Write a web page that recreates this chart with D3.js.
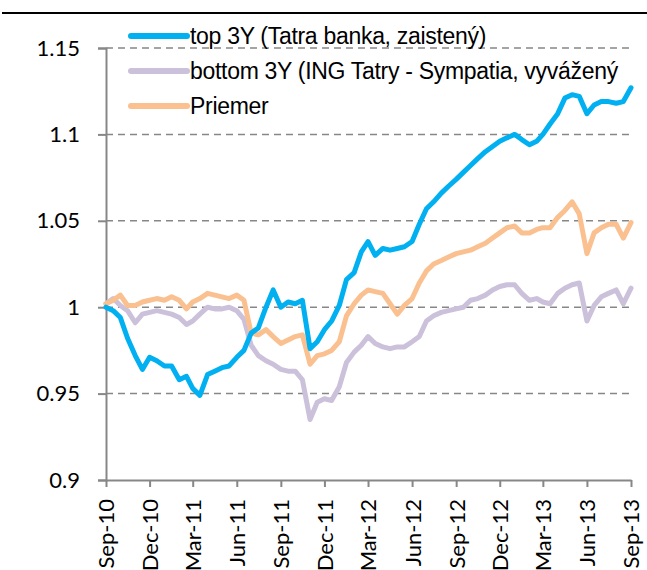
<!DOCTYPE html>
<html>
<head>
<meta charset="utf-8">
<script src="https://cdn.jsdelivr.net/npm/d3@7"></script>
<style>
  body { margin: 0; background: #fff; }
  svg { display: block; }
</style>
</head>
<body>
<div id="chart"></div>
<script>
// series, one value every half month from Sep-10 to Sep-13
var topValues = [
  1.000, 0.998, 0.994, 0.982, 0.972, 0.964, 0.971, 0.969, 0.966, 0.966,
  0.958, 0.960, 0.953, 0.949, 0.961, 0.963, 0.965, 0.966, 0.971, 0.975,
  0.985, 0.988, 1.000, 1.010, 1.000, 1.003, 1.002, 1.004, 0.976, 0.980,
  0.987, 0.992, 1.001, 1.016, 1.020, 1.032, 1.038, 1.030, 1.034, 1.033,
  1.034, 1.035, 1.038, 1.048, 1.057, 1.061, 1.066, 1.070, 1.074, 1.078,
  1.082, 1.086, 1.090, 1.093, 1.096, 1.098, 1.100, 1.097, 1.094, 1.096,
  1.100, 1.106, 1.112, 1.121, 1.123, 1.122, 1.112, 1.117, 1.119, 1.119,
  1.118, 1.119, 1.127
];
var bottomValues = [
  1.002, 1.005, 1.001, 0.998, 0.991, 0.996, 0.997, 0.998, 0.997, 0.996,
  0.994, 0.990, 0.992, 0.996, 1.000, 0.999, 0.999, 1.000, 0.998, 0.993,
  0.978, 0.972, 0.969, 0.967, 0.964, 0.963, 0.963, 0.958, 0.935, 0.945,
  0.947, 0.946, 0.954, 0.968, 0.974, 0.978, 0.983, 0.979, 0.977, 0.976,
  0.977, 0.977, 0.980, 0.983, 0.992, 0.995, 0.997, 0.998, 0.999, 1.000,
  1.004, 1.005, 1.007, 1.010, 1.012, 1.013, 1.013, 1.008, 1.004, 1.005,
  1.003, 1.002, 1.008, 1.011, 1.013, 1.014, 0.992, 1.001, 1.006, 1.008,
  1.010, 1.002, 1.011
];
var avgValues = [
  1.002, 1.004, 1.007, 1.001, 1.001, 1.003, 1.004, 1.005, 1.004, 1.006,
  1.004, 0.999, 1.003, 1.005, 1.008, 1.007, 1.006, 1.005, 1.007, 1.004,
  0.985, 0.984, 0.987, 0.983, 0.979, 0.981, 0.983, 0.984, 0.967, 0.972,
  0.973, 0.975, 0.980, 0.995, 1.002, 1.007, 1.010, 1.009, 1.008, 1.002,
  0.996, 1.001, 1.005, 1.014, 1.021, 1.025, 1.027, 1.029, 1.031, 1.032,
  1.033, 1.035, 1.037, 1.040, 1.043, 1.046, 1.047, 1.043, 1.043, 1.045,
  1.046, 1.046, 1.052, 1.056, 1.061, 1.054, 1.031, 1.043, 1.046, 1.048,
  1.048, 1.040, 1.049
];
var seriesNames = [
  "top 3Y (Tatra banka, zaistený)",
  "bottom 3Y (ING Tatry - Sympatia, vyvážený",
  "Priemer"
];
var yTicks = [0.9, 0.95, 1, 1.05, 1.1, 1.15];
var xTickLabels = ["Sep-10", "Dec-10", "Mar-11", "Jun-11", "Sep-11", "Dec-11", "Mar-12",
                   "Jun-12", "Sep-12", "Dec-12", "Mar-13", "Jun-13", "Sep-13"];

var W = 647, H = 570;
var margin = {top: 48, right: 16, bottom: 90, left: 106};
var colors = ["#00b0f0", "#ccc1da", "#fac090"];

var svg = d3.select("#chart").append("svg")
    .attr("width", W)
    .attr("height", H);

// black rule at the top of the frame
svg.append("line")
    .attr("x1", 2).attr("x2", W)
    .attr("y1", 13).attr("y2", 13)
    .attr("stroke", "#000").attr("stroke-width", 2);

var parseT = d3.timeParse("%b-%y");
var tickDates = xTickLabels.map(parseT);
var halfMonth = function(i) { return new Date(2010, 8 + Math.floor(i / 2), i % 2 ? 16 : 1); };

var x = d3.scaleTime()
    .domain([tickDates[0], tickDates[tickDates.length - 1]])
    .range([margin.left, W - margin.right]);
var y = d3.scaleLinear()
    .domain([0.9, 1.15])
    .range([H - margin.bottom, margin.top]);

// dashed grid
svg.append("g").selectAll("line")
  .data(yTicks.filter(function(d){ return d > 0.9; }))
  .join("line")
    .attr("x1", margin.left).attr("x2", W - margin.right)
    .attr("y1", function(d){ return y(d); }).attr("y2", function(d){ return y(d); })
    .attr("stroke", "#878787").attr("stroke-width", 1.5)
    .attr("stroke-dasharray", "7,5");

// y axis
var yAxis = svg.append("g")
    .attr("transform", "translate(" + margin.left + ",0)")
    .call(d3.axisLeft(y).tickValues(yTicks).tickSize(8).tickPadding(18)
      .tickFormat(function(d){ return d3.format("")(+d.toFixed(2)); }));
yAxis.select(".domain").attr("stroke", "#878787").attr("stroke-width", 2);
yAxis.selectAll(".tick line").attr("stroke", "#878787").attr("stroke-width", 2);
yAxis.selectAll("text")
    .attr("font-family", "Lato, sans-serif").attr("font-size", 22).attr("fill", "#000");

// x axis
var xAxis = svg.append("g")
    .attr("transform", "translate(0," + (H - margin.bottom) + ")")
    .call(d3.axisBottom(x).tickValues(tickDates).tickSize(7).tickSizeOuter(0)
      .tickFormat(function(d, i){ return xTickLabels[i]; }));
xAxis.select(".domain").attr("stroke", "#878787").attr("stroke-width", 2);
xAxis.selectAll(".tick line").attr("stroke", "#878787").attr("stroke-width", 2);
xAxis.selectAll("text")
    .attr("font-family", "Lato, sans-serif").attr("font-size", 22).attr("fill", "#000")
    .attr("transform", "rotate(-90)")
    .attr("text-anchor", "end")
    .attr("x", -19).attr("y", 0).attr("dy", "0.36em");

// lines: purple, orange, then blue on top
var line = d3.line()
    .x(function(d, i){ return x(halfMonth(i)); })
    .y(function(d){ return y(d); });

var drawOrder = [[bottomValues, colors[1]], [avgValues, colors[2]], [topValues, colors[0]]];
drawOrder.forEach(function(s) {
  svg.append("path")
      .datum(s[0])
      .attr("d", line)
      .attr("fill", "none")
      .attr("stroke", s[1])
      .attr("stroke-width", 5)
      .attr("stroke-linejoin", "round")
      .attr("stroke-linecap", "round");
});

// legend
var legend = svg.append("g").selectAll("g")
  .data(seriesNames)
  .join("g")
    .attr("transform", function(d, i){ return "translate(131," + (36 + i * 35) + ")"; });
legend.append("line")
    .attr("x1", 0).attr("x2", 56)
    .attr("stroke", function(d, i){ return colors[i]; })
    .attr("stroke-width", 6)
    .attr("stroke-linecap", "round");
legend.append("text")
    .attr("x", 59).attr("dy", "0.35em")
    .attr("font-family", "'Liberation Sans', Arial, sans-serif")
    .attr("font-size", 23)
    .attr("letter-spacing", "-0.3px")
    .text(function(d){ return d; });
</script>
</body>
</html>
